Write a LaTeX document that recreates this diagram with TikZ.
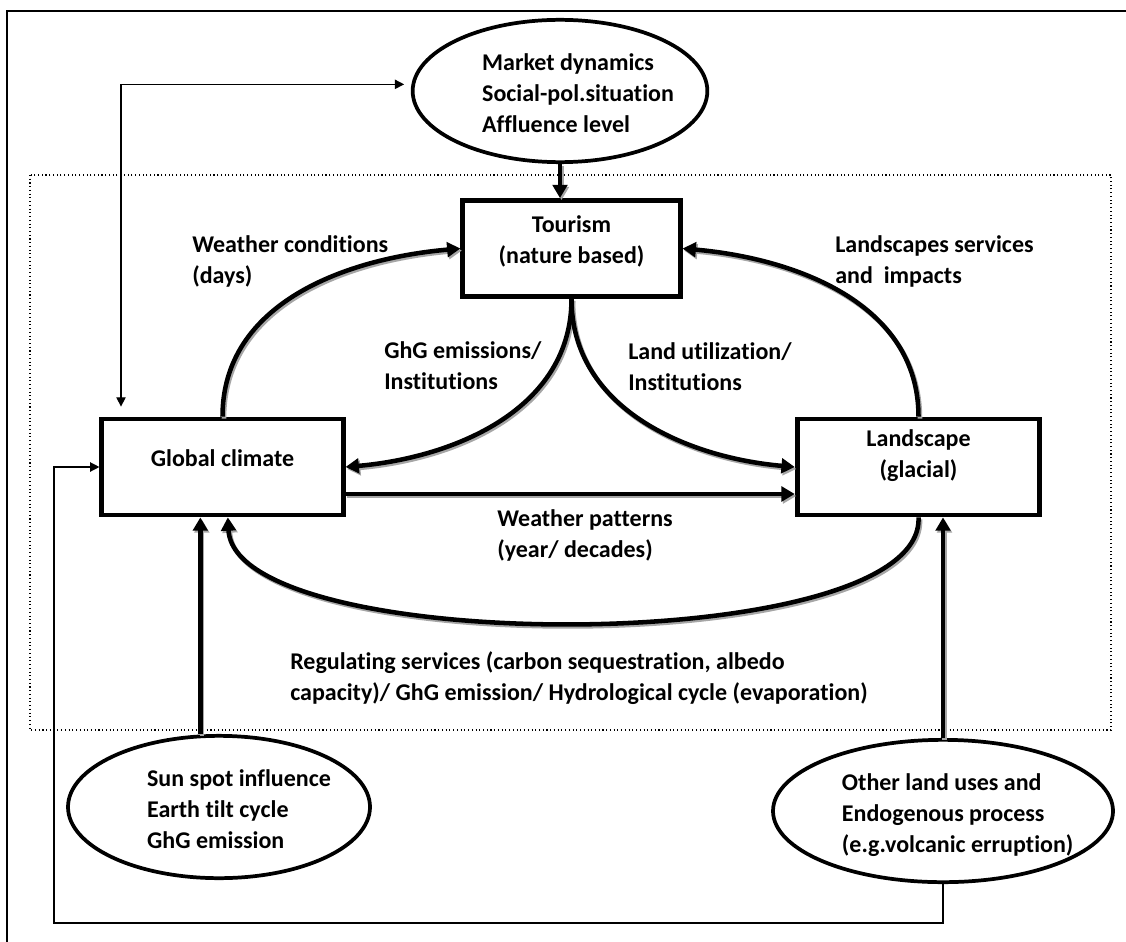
\documentclass[tikz,border=0pt]{standalone}
\usepackage{fontspec}
\setmainfont{Carlito}[Ligatures=NoCommon]
\usetikzlibrary{arrows.meta,shapes.geometric}
\newcommand{\diagfont}{\fontsize{18}{23.25}\selectfont\bfseries}
\newcommand{\ovallines}[2]{\hspace*{#1}\begin{tabular}{@{}l@{}}\rule{0pt}{22pt}#2\end{tabular}\hspace*{-#1}}

\begin{document}
\begin{tikzpicture}[x=0.75pt, y=-0.75pt,
  box/.style={draw, line width=3.6pt, align=center, font=\diagfont, minimum height=72pt, inner sep=0pt},
  oval/.style={draw, ellipse, line width=2.8pt, font=\diagfont, inner sep=0pt, fill=white},
  lbl/.style={align=left, font=\diagfont, anchor=west, inner sep=0pt},
  flow/.style={line width=3.4pt, -{Triangle[length=10pt,width=11pt]},
               preaction={draw, black!35, line width=3.4pt, transform canvas={shift={(1.5,2)}}}},
  link/.style={line width=1pt}]
  \useasboundingbox (0,0) rectangle (1126,941);
  \draw[line width=1.5pt] (7,950) -- (7,11) -- (1135,11);
  \draw[dotted, line width=0.8pt] (30,175) rectangle (1111,730);

  \node[oval, minimum width=221pt, minimum height=96pt] (mkt) at (560,91)
    {\ovallines{13.5pt}{Market dynamics\\Social-pol.situation\\Affluence level}};
  \node[box, minimum width=163pt, text depth=13.5pt] (tour) at (571.5,248.5) {Tourism\\(nature based)};
  \node[box, minimum width=181pt, text depth=13pt] (glob) at (222.5,467) {Global climate};
  \node[box, minimum width=182pt, text depth=19.5pt] (land) at (918.5,467) {Landscape\\(glacial)};
  \node[oval, minimum width=226.5pt, minimum height=104pt] (sun) at (219,807)
    {\ovallines{15pt}{Sun spot influence\\Earth tilt cycle\\GhG emission}};
  \node[oval, minimum width=255pt, minimum height=95pt] (oth) at (943,811)
    {\ovallines{11pt}{Other land uses and\\Endogenous process\\(e.g.volcanic erruption)}};

  \node[lbl] (wcond) at (192,261) {Weather conditions\\(days)};
  \node[lbl] (lserv) at (835,261) {Landscapes services\\and\ \ impacts};
  \node[lbl] (ghg) at (384,366) {GhG emissions/\\Institutions};
  \node[lbl] (lutil) at (628,367) {Land utilization/\\Institutions};
  \node[lbl] (wpat) at (497,535) {Weather patterns\\(year/ decades)};
  \node[lbl] (regul) at (290,678) {Regulating services (carbon sequestration, albedo\\capacity)/ GhG emission/ Hydrological cycle (evaporation)};

  \draw[flow] (mkt.south) -- (mkt.south |- tour.north);
  \draw[flow] (glob.north) to[out=90, in=185] (tour.west);
  \draw[flow] (land.north) to[out=90, in=-5] (tour.east);
  \draw[flow] (tour.south) to[out=-90, in=5] (glob.east);
  \draw[flow] (tour.south) to[out=-90, in=175] (land.west);
  \draw[flow] (glob.east |- 0,494) -- (land.west |- 0,494);
  \draw[flow] (land.south) .. controls (925,658) and (235,658) .. ([xshift=4pt]glob.south);
  \draw[flow] ([xshift=-14pt]sun.north) -- ([xshift=-14pt]sun.north |- glob.south);
  \draw[flow] (oth.north) -- (oth.north |- land.south);

  \draw[link, -{Triangle[length=7pt,width=7pt]}] (oth.south) |- (54,923) |- (glob.west);
  \draw[link, {Triangle[length=7pt,width=7pt]}-{Triangle[length=7pt,width=7pt]}, shorten <=7.5pt, shorten >=5pt]
    (glob.north -| 121,0) |- ([yshift=5pt]mkt.west);
\end{tikzpicture}
\end{document}
